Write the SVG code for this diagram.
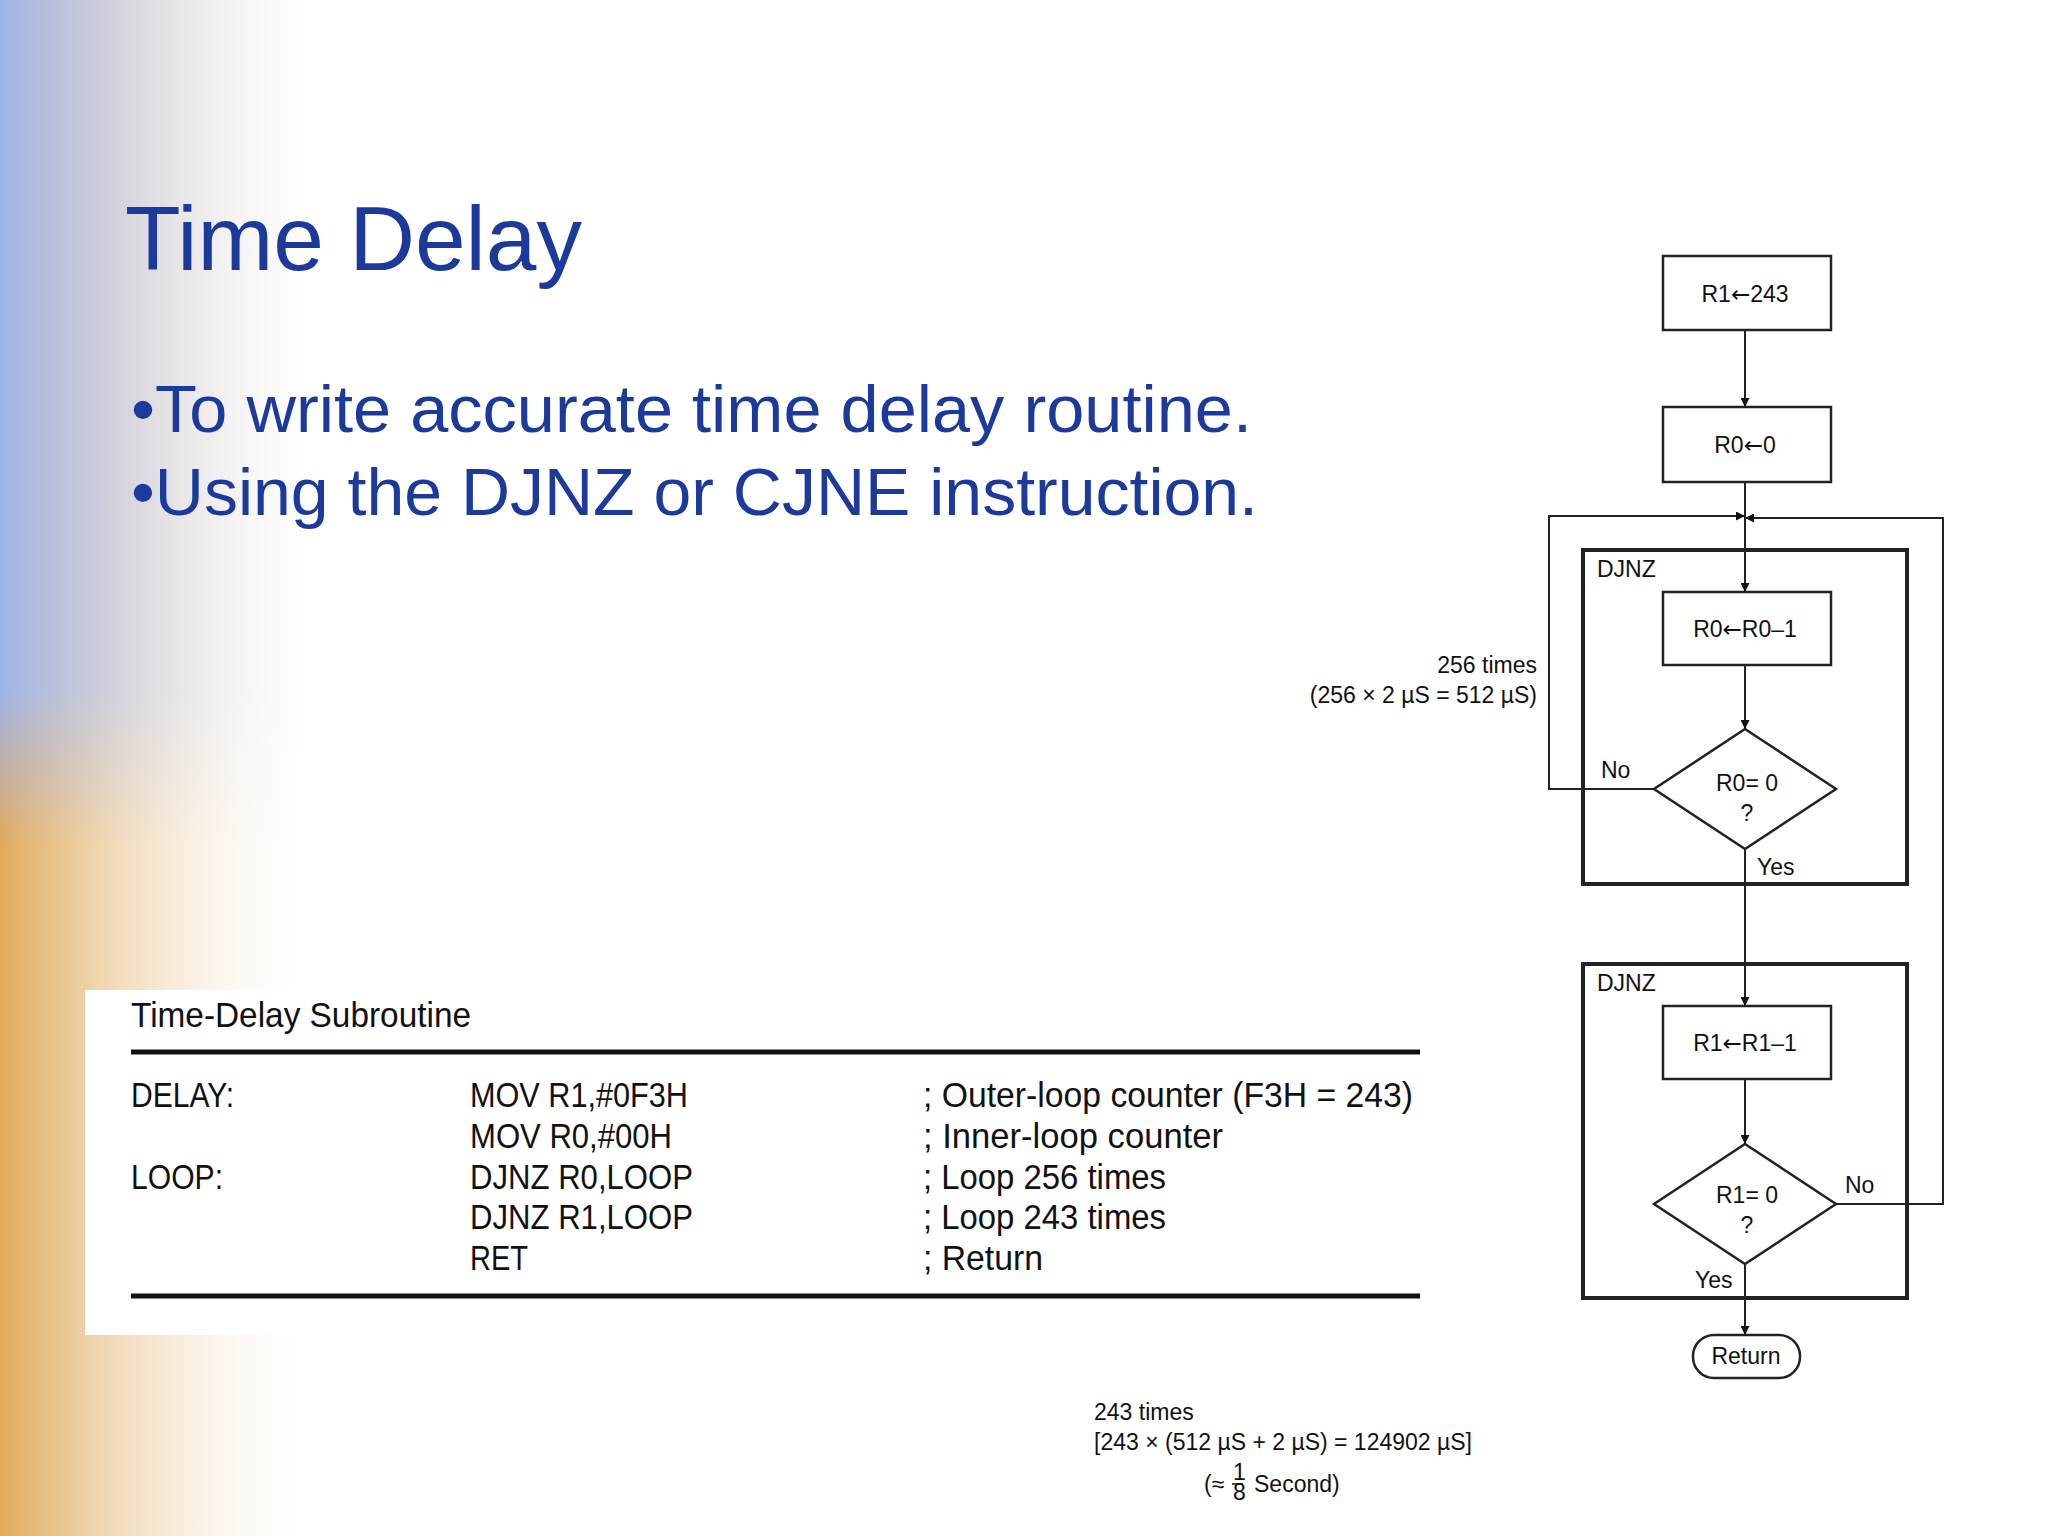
<svg xmlns="http://www.w3.org/2000/svg" width="2048" height="1536" viewBox="0 0 2048 1536">
<defs>
<linearGradient id="lb" x1="0" y1="0" x2="1" y2="0"><stop offset="0" stop-color="#9fb4e8"/><stop offset="1" stop-color="#ffffff" stop-opacity="0"/></linearGradient>
<linearGradient id="lo" x1="0" y1="0" x2="1" y2="0"><stop offset="0" stop-color="#e0a95a"/><stop offset="1" stop-color="#ffffff" stop-opacity="0"/></linearGradient>
<linearGradient id="vm" x1="0" y1="0" x2="0" y2="1"><stop offset="0" stop-color="#fff" stop-opacity="1"/><stop offset="0.45" stop-color="#fff" stop-opacity="1"/><stop offset="0.55" stop-color="#fff" stop-opacity="0"/><stop offset="1" stop-color="#fff" stop-opacity="0"/></linearGradient>
<mask id="topm"><rect x="0" y="0" width="400" height="1536" fill="url(#vm)"/></mask>
<marker id="ah" viewBox="0 0 10 10" refX="10" refY="5" markerWidth="9" markerHeight="9" orient="auto" markerUnits="userSpaceOnUse"><path d="M0,0 L10,5 L0,10 Z" fill="#111"/></marker>
</defs>
<style>
.fc{font-family:"Liberation Sans",Arial,sans-serif;fill:#111;font-size:23px}
.ar{font-family:"DejaVu Sans",sans-serif}
.box{fill:none;stroke:#222;stroke-width:2.5}
.grp{fill:none;stroke:#222;stroke-width:4}
.ln{fill:none;stroke:#222;stroke-width:2}
.code{font-family:"Liberation Sans",Arial,sans-serif;font-size:35px;fill:#111}
.ttl{font-family:"Liberation Sans",Arial,sans-serif;fill:#1b3a9c}
</style>
<rect width="2048" height="1536" fill="#fff"/>
<rect x="0" y="0" width="330" height="1536" fill="url(#lo)"/>
<rect x="0" y="0" width="330" height="1536" fill="url(#lb)" mask="url(#topm)"/>
<rect x="85" y="990" width="1360" height="345" fill="#fff"/>
<text class="ttl" x="125" y="270" font-size="90" textLength="457" lengthAdjust="spacingAndGlyphs">Time Delay</text>
<text class="ttl" x="131" y="432" font-size="66" textLength="1121" lengthAdjust="spacingAndGlyphs">•To write accurate time delay routine.</text>
<text class="ttl" x="131" y="515" font-size="66" textLength="1127" lengthAdjust="spacingAndGlyphs">•Using the DJNZ or CJNE instruction.</text>
<g id="table">
<text class="code" x="131" y="1027" font-size="33" textLength="340" lengthAdjust="spacingAndGlyphs">Time-Delay Subroutine</text>
<line x1="131" y1="1052" x2="1420" y2="1052" stroke="#111" stroke-width="5"/>
<line x1="131" y1="1296" x2="1420" y2="1296" stroke="#111" stroke-width="5"/>
<text class="code" x="131" y="1107" textLength="103" lengthAdjust="spacingAndGlyphs">DELAY:</text>
<text class="code" x="131" y="1189" textLength="92" lengthAdjust="spacingAndGlyphs">LOOP:</text>
<text class="code" x="470" y="1107" textLength="218" lengthAdjust="spacingAndGlyphs">MOV R1,#0F3H</text>
<text class="code" x="470" y="1148" textLength="202" lengthAdjust="spacingAndGlyphs">MOV R0,#00H</text>
<text class="code" x="470" y="1189" textLength="223" lengthAdjust="spacingAndGlyphs">DJNZ R0,LOOP</text>
<text class="code" x="470" y="1229" textLength="223" lengthAdjust="spacingAndGlyphs">DJNZ R1,LOOP</text>
<text class="code" x="470" y="1270" textLength="58" lengthAdjust="spacingAndGlyphs">RET</text>
<text class="code" x="923" y="1107" textLength="490" lengthAdjust="spacingAndGlyphs">; Outer-loop counter (F3H = 243)</text>
<text class="code" x="923" y="1148" textLength="300" lengthAdjust="spacingAndGlyphs">; Inner-loop counter</text>
<text class="code" x="923" y="1189" textLength="243" lengthAdjust="spacingAndGlyphs">; Loop 256 times</text>
<text class="code" x="923" y="1229" textLength="243" lengthAdjust="spacingAndGlyphs">; Loop 243 times</text>
<text class="code" x="923" y="1270" textLength="120" lengthAdjust="spacingAndGlyphs">; Return</text>
</g>
<g id="djnz1"><rect class="grp" x="1583" y="550" width="324" height="334"/><text class="fc" x="1597" y="577">DJNZ</text></g>
<g id="djnz2"><rect class="grp" x="1583" y="964" width="324" height="334"/><text class="fc" x="1597" y="991">DJNZ</text></g>
<g id="n1"><rect class="box" x="1663" y="256" width="168" height="74"/><text class="fc" x="1745" y="302" text-anchor="middle">R1<tspan class="ar">←</tspan>243</text></g>
<g id="n2"><rect class="box" x="1663" y="407" width="168" height="75"/><text class="fc" x="1745" y="453" text-anchor="middle">R0<tspan class="ar">←</tspan>0</text></g>
<g id="n3"><rect class="box" x="1663" y="592" width="168" height="73"/><text class="fc" x="1745" y="637" text-anchor="middle">R0<tspan class="ar">←</tspan>R0–1</text></g>
<g id="d1"><path class="box" d="M1745,729 L1836,789 L1745,849 L1654,789 Z"/><text class="fc" x="1747" y="791" text-anchor="middle">R0= 0</text><text class="fc" x="1747" y="821" text-anchor="middle">?</text></g>
<g id="n4"><rect class="box" x="1663" y="1006" width="168" height="73"/><text class="fc" x="1745" y="1051" text-anchor="middle">R1<tspan class="ar">←</tspan>R1–1</text></g>
<g id="d2"><path class="box" d="M1745,1144 L1836,1204 L1745,1264 L1654,1204 Z"/><text class="fc" x="1747" y="1203" text-anchor="middle">R1= 0</text><text class="fc" x="1747" y="1233" text-anchor="middle">?</text></g>
<g id="ret"><rect class="box" x="1693" y="1335" width="107" height="43" rx="21"/><text class="fc" x="1746" y="1364" text-anchor="middle">Return</text></g>
<g id="connectors">
<line class="ln" x1="1745" y1="330" x2="1745" y2="407" marker-end="url(#ah)"/>
<line class="ln" x1="1745" y1="482" x2="1745" y2="592" marker-end="url(#ah)"/>
<line class="ln" x1="1745" y1="665" x2="1745" y2="729" marker-end="url(#ah)"/>
<line class="ln" x1="1745" y1="849" x2="1745" y2="1006" marker-end="url(#ah)"/>
<line class="ln" x1="1745" y1="1079" x2="1745" y2="1144" marker-end="url(#ah)"/>
<line class="ln" x1="1745" y1="1264" x2="1745" y2="1335" marker-end="url(#ah)"/>
<polyline class="ln" points="1654,789 1549,789 1549,516 1745,516" marker-end="url(#ah)"/>
<polyline class="ln" points="1836,1204 1943,1204 1943,518 1745,518" marker-end="url(#ah)"/>
<text class="fc" x="1601" y="778">No</text>
<text class="fc" x="1757" y="875">Yes</text>
<text class="fc" x="1845" y="1193">No</text>
<text class="fc" x="1695" y="1288">Yes</text>
</g>
<text class="fc" x="1537" y="673" text-anchor="end">256 times</text>
<text class="fc" x="1537" y="703" text-anchor="end">(256 × 2 µS = 512 µS)</text>
<text class="fc" x="1094" y="1420">243 times</text>
<text class="fc" x="1094" y="1450">[243 × (512 µS + 2 µS) = 124902 µS]</text>
<text class="fc" x="1204" y="1492">(≈</text>
<text class="fc" x="1233" y="1480" font-size="14">1</text>
<line x1="1232" y1="1484" x2="1243" y2="1484" stroke="#111" stroke-width="1.5"/>
<text class="fc" x="1233" y="1500" font-size="14">8</text>
<text class="fc" x="1254" y="1492">Second)</text>
</svg>
